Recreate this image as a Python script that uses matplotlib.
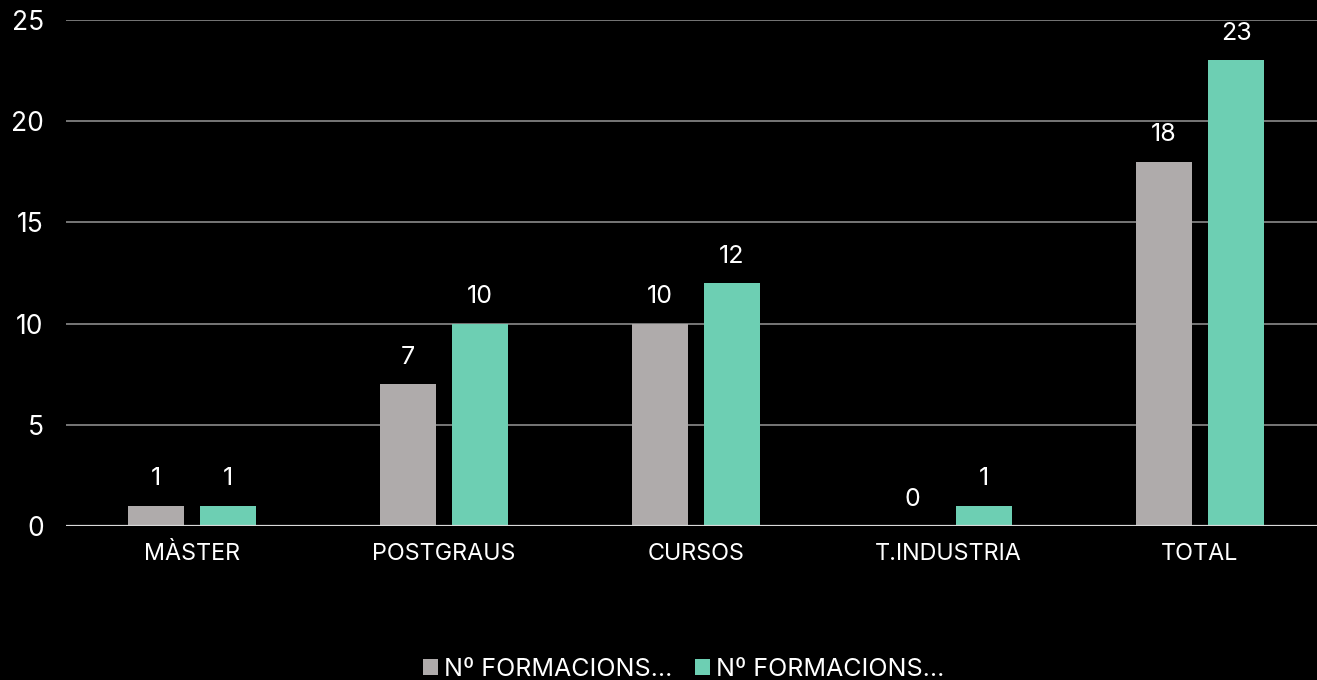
import numpy as np
import matplotlib.pyplot as plt

plt.rcParams['font.family'] = ['Inter', 'DejaVu Sans']

categorias = ['MÀSTER', 'POSTGRAUS', 'CURSOS', 'T.INDUSTRIA', 'TOTAL']
serie_1 = [1, 7, 10, 0, 18]
serie_2 = [1, 10, 12, 1, 23]
noms_series = ['Nº FORMACIONS…', 'Nº FORMACIONS…']
colors = ['#AFABAB', '#6DCFB3']

fig = plt.figure(figsize=(13.17, 6.8), dpi=100, facecolor='black')
ax = fig.add_axes([66 / 1317, 154 / 680, 1260 / 1317, 506 / 680])
ax.set_facecolor('black')

x = np.arange(len(categorias))
amplada = 0.222
desp = 0.143
b1 = ax.bar(x - desp, serie_1, amplada, color=colors[0], label=noms_series[0], zorder=3)
b2 = ax.bar(x + desp, serie_2, amplada, color=colors[1], label=noms_series[1], zorder=3)

for b in (b1, b2):
    ax.bar_label(b, padding=11, color='white', fontsize=18)

ax.set_xlim(-0.5, len(categorias) - 0.5)
ax.set_ylim(0, 25)
ax.set_yticks([0, 5, 10, 15, 20, 25])
ax.set_xticks(x)
ax.set_xticklabels(categorias)

ax.yaxis.grid(True, color='#808080', linewidth=1.3)
ax.set_axisbelow(True)
ax.axhline(0, color='#d9d9d9', linewidth=1.6, zorder=4)

for s in ax.spines.values():
    s.set_visible(False)
ax.tick_params(axis='both', length=0, colors='white')
ax.tick_params(axis='y', labelsize=19, pad=16)
ax.tick_params(axis='x', labelsize=16.8, pad=12)

leg = fig.legend(loc='center', bbox_to_anchor=(684 / 1317, 11 / 680), ncol=2,
                 frameon=False, fontsize=18, labelcolor='white',
                 handlelength=0.6, handleheight=0.6, handletextpad=0.25,
                 columnspacing=0.9)

fig.savefig('out.png', dpi=100, facecolor='black')
